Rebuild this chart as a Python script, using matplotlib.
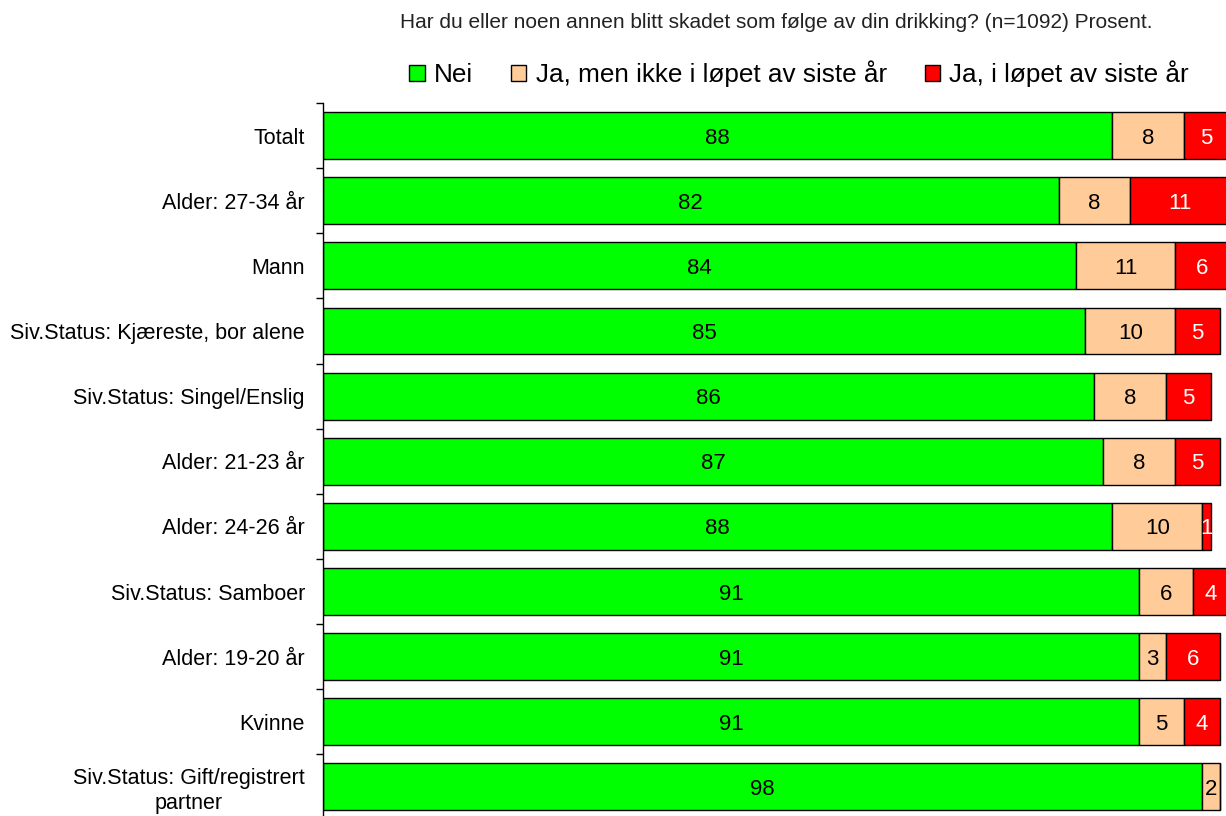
import matplotlib.pyplot as plt
import numpy as np

plt.rcParams['font.family'] = ['Liberation Sans', 'DejaVu Sans']

categories = ['Totalt', 'Alder: 27-34 år', 'Mann', 'Siv.Status: Kjæreste, bor alene',
              'Siv.Status: Singel/Enslig', 'Alder: 21-23 år', 'Alder: 24-26 år',
              'Siv.Status: Samboer', 'Alder: 19-20 år', 'Kvinne',
              'Siv.Status: Gift/registrert\npartner']
nei = [88, 82, 84, 85, 86, 87, 88, 91, 91, 91, 98]
ja_tidligere = [8, 8, 11, 10, 8, 8, 10, 6, 3, 5, 2]
ja_siste_aar = [5, 11, 6, 5, 5, 5, 1, 4, 6, 4, 0]

series = [
    ('Nei', nei, '#00ff00', 'black'),
    ('Ja, men ikke i løpet av siste år', ja_tidligere, '#ffcc99', 'black'),
    ('Ja, i løpet av siste år', ja_siste_aar, '#ff0000', 'white'),
]

W, H = 1226, 816
fig = plt.figure(figsize=(W / 100, H / 100), dpi=100)
ax = fig.add_axes([323 / W, -3.5 / H, 903 / W, (819.5 - 103) / H])

y = np.arange(len(categories))
left = np.zeros(len(categories))
for name, vals, color, tcolor in series:
    vals = np.array(vals, dtype=float)
    ax.barh(y, vals, left=left, height=0.72, color=color,
            edgecolor='black', linewidth=1, label=name)
    for yi, l, v in zip(y, left, vals):
        if v > 0:
            ax.text(l + v / 2, yi, f'{v:.0f}', ha='center', va='center_baseline',
                    fontsize=16, color=tcolor)
    left += vals

ax.set_xlim(0, 100.67)
ax.set_ylim(len(categories) - 0.5, -0.5)
ax.set_yticks(y)
ax.set_yticklabels(categories, fontsize=15.5)
for lab in ax.get_yticklabels():
    lab.set_multialignment('center')
ax.set_yticks(np.arange(-0.5, len(categories), 1), minor=True)
ax.tick_params(axis='y', which='major', length=0, pad=13)
ax.tick_params(axis='y', which='minor', length=5, width=1, direction='out')
ax.set_xticks([])
for s in ['top', 'right', 'bottom']:
    ax.spines[s].set_visible(False)
ax.spines['left'].set_linewidth(1)

fig.text(776 / W, 1 - 22 / H,
         'Har du eller noen annen blitt skadet som følge av din drikking? (n=1092) Prosent.',
         ha='center', va='center', fontsize=15, color='#222222')

fig.legend(loc='center', bbox_to_anchor=(799 / W, 1 - 74 / H), ncol=3, frameon=False,
           fontsize=18.8, handlelength=0.6, handleheight=0.6, handletextpad=0.35,
           columnspacing=1.45, borderpad=0)

fig.savefig('out.png', dpi=100)
